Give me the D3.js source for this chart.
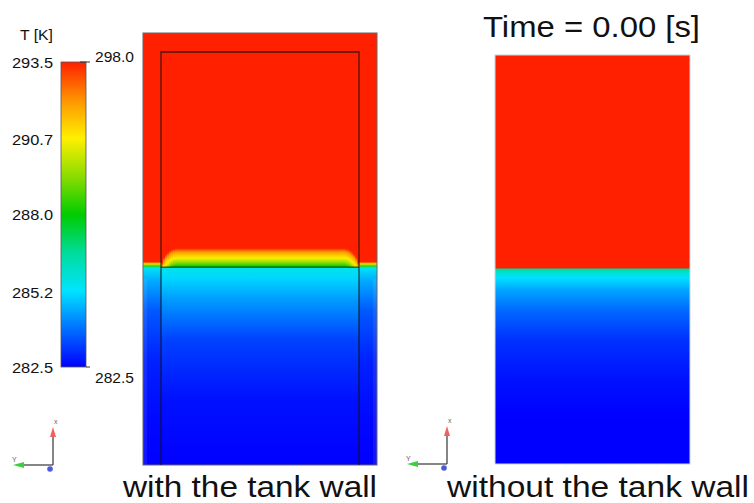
<!DOCTYPE html>
<html>
<head>
<meta charset="utf-8">
<script src="https://cdn.jsdelivr.net/npm/d3@7"></script>
<style>
  body { margin: 0; background: #fff; }
  text { font-family: "Liberation Sans", Arial, sans-serif; fill: #111; }
</style>
</head>
<body>
<div id="chart"></div>
<script>
// colour bar
var barTicks = [282.5, 285.2, 288.0, 290.7, 293.5];
var mapTemps = [282.5, 283.875, 285.25, 286.625, 288.0, 289.375, 290.75, 292.125, 293.5];
var mapColors = ["#0000ff", "#0070ff", "#00e4ff", "#00dc9a", "#00cc00", "#8cdc00", "#fff000", "#ff9400", "#ff2000"];
var fieldRange = [282.5, 298.0];

// temperature profiles: [height as fraction of inner tank, T in K]
var wallProfile = [[0, 282.5], [0.109, 282.6], [0.254, 282.9], [0.375, 283.6], [0.448, 284.6],
  [0.477, 285.4], [0.482, 288.5], [0.487, 291.0], [0.492, 298.0], [1.05, 298.0]];
var insideProfile = [[0, 282.5], [0.157, 282.7], [0.303, 283.3], [0.400, 284.4], [0.453, 285.1],
  [0.477, 285.5], [0.479, 287.8], [0.482, 288.2], [0.491, 289.5], [0.501, 290.7], [0.516, 292.0],
  [0.525, 293.5], [0.530, 298.0], [1.05, 298.0]];
var noWallProfile = [[0, 282.5], [0.108, 282.5], [0.205, 282.7], [0.303, 283.1], [0.377, 283.8],
  [0.425, 284.5], [0.455, 285.2], [0.467, 285.8], [0.477, 286.6], [0.479, 298.0], [1.05, 298.0]];
// warm layer bends down near the inner wall: [distance from wall (fraction of width), drop]
var cornerDrop = [[0, 0.034], [0.01, 0.022], [0.02, 0.015], [0.03, 0.010], [0.04, 0.006],
  [0.05, 0.003], [0.06, 0.001]];
var liquidLevel = 0.479;

var svg = d3.select("#chart").append("svg")
  .attr("width", 754)
  .attr("height", 503);
var defs = svg.append("defs");

var color = d3.scaleLinear()
  .domain(mapTemps)
  .range(mapColors)
  .clamp(true);

var gradCount = 0;
function profileGradient(profile, y, drop) {
  var id = "g" + (gradCount++);
  var y0 = y(0), y1 = y(1.05);
  var g = defs.append("linearGradient")
    .attr("id", id)
    .attr("gradientUnits", "userSpaceOnUse")
    .attr("x1", 0).attr("x2", 0)
    .attr("y1", y0).attr("y2", y1);
  g.selectAll("stop")
    .data(profile)
    .enter()
    .append("stop")
    .attr("offset", function(d) {
      var z = Math.max(0, d[0] - drop);
      return (y(z) - y0) / (y1 - y0);
    })
    .attr("stop-color", function(d) { return color(d[1]); });
  return "url(#" + id + ")";
}

// ---- colour bar ----
var barY = d3.scaleLinear().domain([282.5, 293.5]).range([367, 62]);
var barGrad = defs.append("linearGradient")
  .attr("id", "bar")
  .attr("gradientUnits", "userSpaceOnUse")
  .attr("x1", 0).attr("x2", 0)
  .attr("y1", barY(282.5)).attr("y2", barY(293.5));
barGrad.selectAll("stop")
  .data(mapTemps)
  .enter()
  .append("stop")
  .attr("offset", function(d) { return (d - 282.5) / 11; })
  .attr("stop-color", function(d) { return color(d); });

svg.append("rect")
  .attr("x", 61).attr("y", barY(293.5))
  .attr("width", 25).attr("height", barY(282.5) - barY(293.5))
  .attr("fill", "url(#bar)")
  .attr("stroke", "#555")
  .attr("stroke-width", 0.8);

svg.selectAll(".tick")
  .data(barTicks)
  .enter()
  .append("text")
  .attr("x", 12)
  .attr("y", function(d) { return barY(d) + 5.5; })
  .attr("font-size", 15.5)
  .attr("textLength", 41)
  .attr("lengthAdjust", "spacingAndGlyphs")
  .text(function(d) { return d.toFixed(1); });

svg.append("text")
  .attr("x", 20).attr("y", 40)
  .attr("font-size", 15)
  .attr("textLength", 33)
  .attr("lengthAdjust", "spacingAndGlyphs")
  .text("T [K]");

// field range markers
svg.append("line")
  .attr("x1", 80).attr("x2", 90)
  .attr("y1", barY(293.5)).attr("y2", barY(293.5))
  .attr("stroke", "#333");
svg.append("line")
  .attr("x1", 86).attr("x2", 90)
  .attr("y1", barY(282.5)).attr("y2", barY(282.5))
  .attr("stroke", "#333");
svg.append("text")
  .attr("x", 95).attr("y", barY(293.5))
  .attr("font-size", 15.5)
  .attr("textLength", 39)
  .attr("lengthAdjust", "spacingAndGlyphs")
  .text(fieldRange[1].toFixed(1));
svg.append("text")
  .attr("x", 95).attr("y", barY(282.5) + 15.5)
  .attr("font-size", 15.5)
  .attr("textLength", 39)
  .attr("lengthAdjust", "spacingAndGlyphs")
  .text(fieldRange[0].toFixed(1));

// ---- left panel: with the tank wall ----
var xL = d3.scaleLinear().domain([0, 1]).range([161, 359]);
var yL = d3.scaleLinear().domain([0, 1]).range([465, 52]);
var wallTop = 1.046;
var wallX0 = 143, wallX1 = 377;

svg.append("rect")
  .attr("x", wallX0).attr("y", yL(wallTop))
  .attr("width", wallX1 - wallX0).attr("height", yL(0) - yL(wallTop))
  .attr("fill", profileGradient(wallProfile, yL, 0));

// light edge of the wall
[wallX0, wallX1 - 4].forEach(function(x) {
  svg.append("rect")
    .attr("x", x).attr("y", yL(0.45))
    .attr("width", 4).attr("height", yL(0) - yL(0.45))
    .attr("fill", "#fff").attr("opacity", 0.08);
});

svg.append("rect")
  .attr("x", xL(0)).attr("y", yL(1))
  .attr("width", xL(1) - xL(0)).attr("height", yL(0) - yL(1))
  .attr("fill", profileGradient(insideProfile, yL, 0));

// bent warm layer next to the inner walls
var stripW = xL(0.01) - xL(0);
cornerDrop.forEach(function(d) {
  var fill = profileGradient(insideProfile, yL, d[1]);
  [xL(d[0]), xL(1 - d[0]) - stripW].forEach(function(x) {
    svg.append("rect")
      .attr("x", x).attr("y", yL(0.6))
      .attr("width", stripW + 0.3).attr("height", yL(liquidLevel) - yL(0.6))
      .attr("fill", fill);
  });
});

svg.append("rect")
  .attr("x", wallX0).attr("y", yL(wallTop))
  .attr("width", wallX1 - wallX0).attr("height", yL(0) - yL(wallTop))
  .attr("fill", "none")
  .attr("stroke", "#666")
  .attr("stroke-width", 1);

svg.append("path")
  .attr("d", "M" + xL(0) + "," + yL(0) + "V" + yL(1) + "H" + xL(1) + "V" + yL(0))
  .attr("fill", "none")
  .attr("stroke", "#111")
  .attr("stroke-opacity", 0.75)
  .attr("stroke-width", 1.3);

svg.append("line")
  .attr("x1", xL(0)).attr("x2", xL(1))
  .attr("y1", yL(liquidLevel)).attr("y2", yL(liquidLevel))
  .attr("stroke", "#0a3a1a")
  .attr("stroke-opacity", 0.8)
  .attr("stroke-width", 1.2);

// ---- right panel: without the tank wall ----
var xR = d3.scaleLinear().domain([0, 1]).range([495, 690]);
var yR = d3.scaleLinear().domain([0, 1]).range([464, 55]);

svg.append("rect")
  .attr("x", xR(0)).attr("y", yR(1))
  .attr("width", xR(1) - xR(0)).attr("height", yR(0) - yR(1))
  .attr("fill", profileGradient(noWallProfile, yR, 0))
  .attr("stroke", "#c9d6ea")
  .attr("stroke-width", 1);

// ---- axis triads ----
function triad(ox, oy) {
  var g = svg.append("g").attr("transform", "translate(" + ox + "," + oy + ")");
  g.append("line").attr("x1", 0).attr("y1", 0).attr("x2", 0).attr("y2", -30)
    .attr("stroke", "#444").attr("stroke-width", 1.3);
  g.append("path").attr("d", "M0,-38L-3,-28L3,-28Z").attr("fill", "#f26060");
  g.append("line").attr("x1", 0).attr("y1", 0).attr("x2", -30).attr("y2", 0)
    .attr("stroke", "#444").attr("stroke-width", 1.3);
  g.append("path").attr("d", "M-40,0L-29,-3L-29,3Z").attr("fill", "#3ccf3c");
  g.append("circle").attr("cx", -3).attr("cy", 4).attr("r", 2.8).attr("fill", "#4a5ad8");
  g.append("text").attr("x", 1).attr("y", -41).attr("font-size", 7).style("fill", "#666").text("x");
  g.append("text").attr("x", -41).attr("y", -3).attr("font-size", 7).style("fill", "#666").text("Y");
}
triad(53, 465);
triad(447, 464);

// ---- titles ----
svg.append("text")
  .attr("x", 483).attr("y", 37)
  .attr("font-size", 29)
  .attr("textLength", 217)
  .attr("lengthAdjust", "spacingAndGlyphs")
  .text("Time = 0.00 [s]");

svg.append("text")
  .attr("x", 123).attr("y", 497)
  .attr("font-size", 29)
  .attr("textLength", 254)
  .attr("lengthAdjust", "spacingAndGlyphs")
  .text("with the tank wall");

svg.append("text")
  .attr("x", 447).attr("y", 497)
  .attr("font-size", 29)
  .attr("textLength", 302)
  .attr("lengthAdjust", "spacingAndGlyphs")
  .text("without the tank wall");
</script>
</body>
</html>
